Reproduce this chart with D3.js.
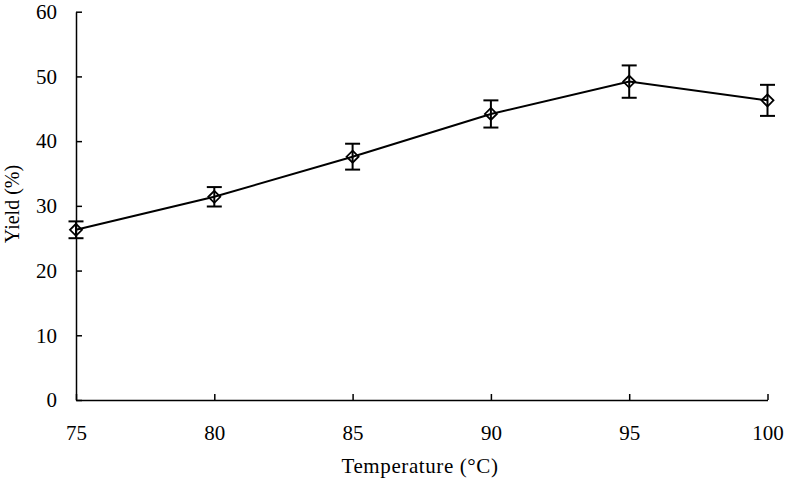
<!DOCTYPE html>
<html><head><meta charset="utf-8">
<script src="https://cdn.jsdelivr.net/npm/d3@7"></script>
<style>body{margin:0;background:#fff}svg{display:block}text{font-family:"Liberation Serif","Times New Roman",serif;fill:#000}</style>
</head><body><svg id="c" width="786" height="486"></svg>
<script>
const temps = [75, 80, 85, 90, 95, 100];
const yieldVals = [26.3, 31.4, 37.6, 44.2, 49.2, 46.3];
const errVals = [1.3, 1.5, 2.0, 2.1, 2.5, 2.4];
const xTicks = [75, 80, 85, 90, 95, 100];
const yTicks = [0, 10, 20, 30, 40, 50, 60];

const svg = d3.select("#c");
const x = d3.scaleLinear().domain([75, 100]).range([76, 767.5]);
const y = d3.scaleLinear().domain([0, 60]).range([400, 11.7]);

// axes
const xa = svg.append("g").attr("transform", "translate(0,400)")
  .call(d3.axisBottom(x).tickValues(xTicks).tickSizeInner(-6).tickSizeOuter(0));
const ya = svg.append("g").attr("transform", "translate(76,0)")
  .call(d3.axisLeft(y).tickValues(yTicks).tickSizeInner(-6).tickSizeOuter(0).tickPadding(19));
[xa, ya].forEach(a => {
  a.select(".domain").attr("stroke", "#000").attr("stroke-width", 1.5);
  a.selectAll(".tick line").attr("stroke", "#000").attr("stroke-width", 1.5);
  a.selectAll("text").style("font-size", "21px").attr("fill", "#000").style("font-family", '"Liberation Serif",serif');
});
xa.selectAll(".tick text").attr("y", 40).attr("dy", "0");

// line
svg.append("path").datum(temps.map((t, i) => [t, yieldVals[i]]))
  .attr("fill", "none").attr("stroke", "#000").attr("stroke-width", 2)
  .attr("d", d3.line().x(d => x(d[0])).y(d => y(d[1])));

// error bars
const eb = svg.append("g").attr("stroke", "#000").attr("stroke-width", 2);
temps.forEach((t, i) => {
  const cx = x(t), top = y(yieldVals[i] + errVals[i]), bot = y(yieldVals[i] - errVals[i]);
  eb.append("line").attr("x1", cx).attr("x2", cx).attr("y1", top).attr("y2", bot);
  eb.append("line").attr("x1", cx - 7.5).attr("x2", cx + 7.5).attr("y1", top).attr("y2", top);
  eb.append("line").attr("x1", cx - 7.5).attr("x2", cx + 7.5).attr("y1", bot).attr("y2", bot);
});

// markers (open diamonds, line visible through)
svg.append("g").selectAll("path").data(temps).join("path")
  .attr("transform", (t, i) => `translate(${x(t)},${y(yieldVals[i])})`)
  .attr("d", "M0,-6L6,0L0,6L-6,0Z")
  .attr("fill", "none").attr("stroke", "#000").attr("stroke-width", 1.8);

// axis titles
svg.append("text").attr("x", 420).attr("y", 473).attr("text-anchor", "middle")
  .style("font-size", "21px").style("letter-spacing", "0.6px").text("Temperature (°C)");
svg.append("text").attr("transform", "translate(19,204) rotate(-90)").attr("text-anchor", "middle")
  .style("font-size", "20px").text("Yield (%)");
</script></body></html>
